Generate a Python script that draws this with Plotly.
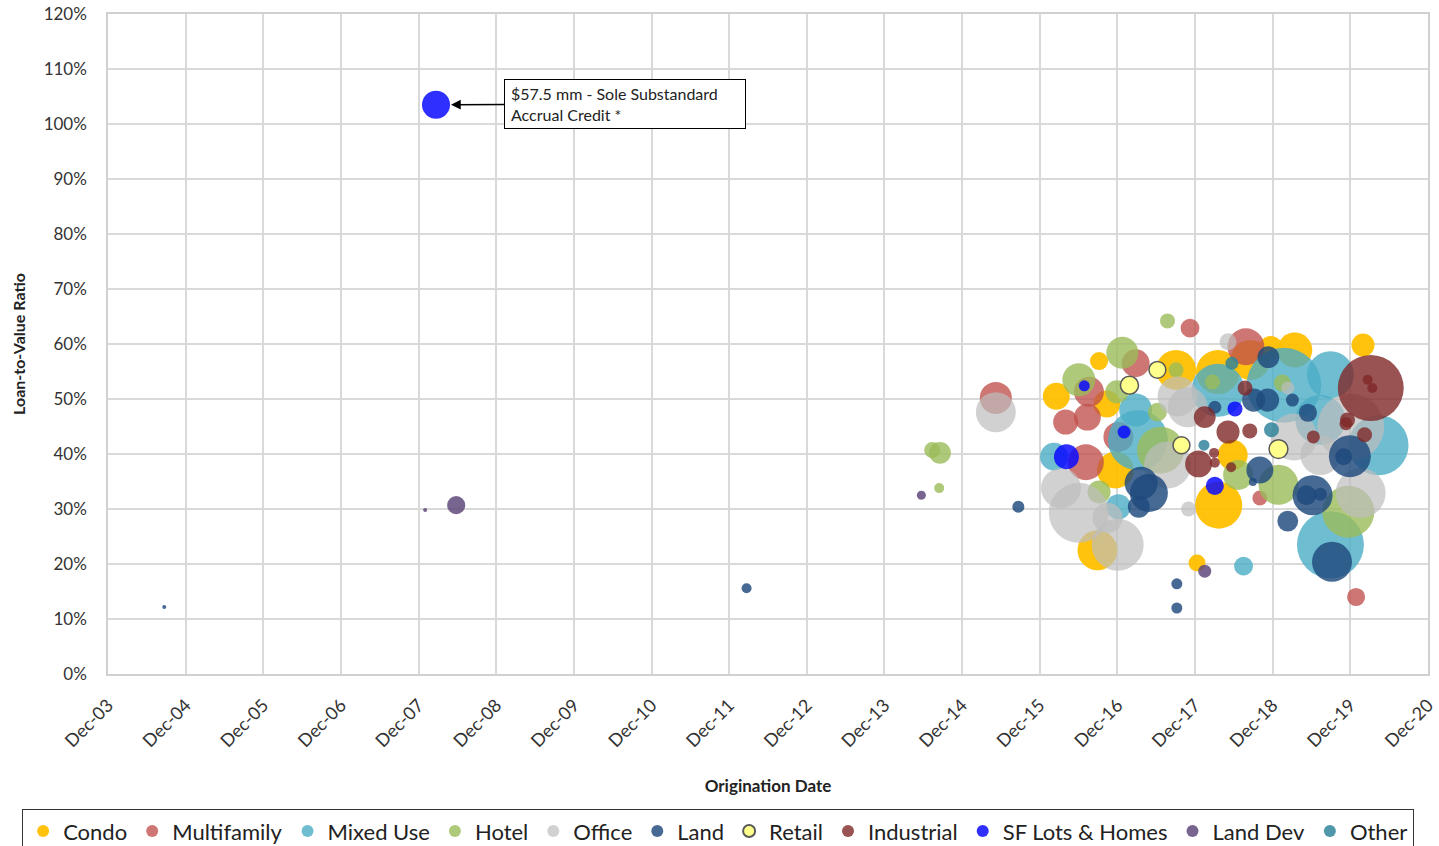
import datetime as dt
import plotly.graph_objects as go

# origination date as decimal year, LTV in %, loan amount in $mm
condo_yr = [2016.68, 2016.13, 2016.78, 2017.67, 2018.21, 2018.63, 2018.89, 2019.20, 2020.08, 2016.89, 2016.66, 2018.22, 2017.94, 2018.40]
condo_ltv = [56.9, 50.5, 49.1, 55.3, 54.9, 57.1, 59.3, 58.9, 59.8, 37.1, 22.5, 30.7, 20.2, 39.8]
condo_amt = [24, 53, 53, 117, 142, 117, 42, 90, 39, 100, 117, 162, 21, 66]

multi_yr = [2017.85, 2018.57, 2017.15, 2016.55, 2016.25, 2016.53, 2016.51, 2018.75, 2019.99, 2015.35, 2016.93]
multi_ltv = [62.9, 59.5, 56.5, 51.3, 45.8, 46.7, 38.5, 32.0, 14.0, 50.2, 43.1]
multi_amt = [26, 100, 57, 66, 46, 53, 95, 16.5, 24, 75, 66]

mixed_yr = [2016.10, 2016.93, 2017.18, 2017.15, 2018.21, 2019.06, 2019.66, 2020.28, 2019.66, 2018.54, 2019.53]
mixed_ltv = [39.5, 30.4, 42.5, 48.0, 51.6, 52.5, 54.4, 41.6, 23.5, 19.6, 46.2]
mixed_amt = [57, 46, 264, 80, 206, 410, 162, 264, 329, 26, 183]

hotel_yr = [2017.56, 2016.98, 2016.42, 2016.91, 2017.67, 2018.14, 2016.68, 2017.47, 2018.99, 2019.89, 2017.43, 2019.04, 2014.53, 2014.63, 2014.62, 2018.47]
hotel_ltv = [64.2, 58.4, 53.5, 51.3, 55.3, 53.1, 33.1, 40.7, 34.4, 29.5, 47.6, 52.9, 40.7, 40.2, 33.8, 36.2]
hotel_amt = [16.5, 75, 80, 39, 16.5, 16.5, 39, 162, 117, 198, 26, 21, 19, 35, 7.3, 66]

office_yr = [2018.34, 2017.69, 2017.82, 2019.92, 2020.05, 2019.19, 2017.56, 2016.19, 2016.42, 2016.79, 2016.92, 2017.83, 2015.35, 2019.11, 2019.53]
office_ltv = [60.4, 50.5, 48.5, 44.9, 32.9, 43.1, 38.0, 33.8, 29.3, 28.4, 23.5, 30.0, 47.6, 52.0, 39.8]
office_amt = [21, 117, 117, 329, 183, 162, 162, 117, 264, 66, 198, 16.5, 117, 12.4, 117]

land_yr = [2018.86, 2017.22, 2017.32, 2017.19, 2017.68, 2017.68, 2019.11, 2019.43, 2019.35, 2019.53, 2018.75, 2018.66,
           2019.91, 2019.83, 2019.68, 2018.67, 2018.85, 2019.17, 2019.37, 2018.17, 2004.64, 2012.14, 2015.64]
land_ltv = [57.6, 34.7, 32.9, 30.4, 16.4, 12.0, 27.8, 32.5, 32.5, 32.7, 37.1, 34.9,
            39.6, 39.5, 20.4, 49.8, 49.8, 49.8, 47.5, 48.5, 12.2, 15.6, 30.4]
land_amt = [35, 80, 106, 35, 8.9, 8.9, 32, 117, 29, 12.4, 53, 4.7,
            129, 21, 117, 39, 39, 12.4, 24, 12.4, 0.7, 7.3, 10.6]

retail_yr = [2017.43, 2017.07, 2017.74, 2018.99]
retail_ltv = [55.3, 52.5, 41.6, 40.9]
retail_amt = [21, 24, 21, 26]

indus_yr = [2020.18, 2020.14, 2020.20, 2017.96, 2018.16, 2018.17, 2018.34, 2018.04, 2018.62, 2018.56, 2019.44, 2019.88, 2019.86, 2020.10, 2018.38]
indus_ltv = [52.0, 53.5, 52.0, 38.2, 40.2, 38.4, 44.0, 46.7, 44.2, 52.0, 43.1, 46.2, 45.5, 43.5, 37.6]
indus_amt = [319, 7.3, 7.3, 53, 7.3, 7.3, 39, 35, 16.5, 16.5, 12.4, 16.5, 12.4, 16.5, 7.3]

sf_yr = [2008.14, 2016.49, 2017.00, 2016.26, 2018.43, 2018.17]
sf_ltv = [103.5, 52.4, 44.0, 39.5, 48.2, 34.2]
sf_amt = [57.5, 8.9, 12.4, 46, 16.5, 24]

landdev_yr = [2008.00, 2008.40, 2014.39, 2018.04]
landdev_ltv = [29.8, 30.7, 32.5, 18.7]
landdev_amt = [1.2, 24, 6, 12.4]

other_yr = [2018.03, 2018.90, 2018.39]
other_ltv = [41.6, 44.4, 56.5]
other_amt = [8.9, 16.5, 12.4]

tick_years = list(range(2003, 2021))
tick_text = ["Dec-%02d" % (y % 100) for y in tick_years]


def to_date(yr):
    y = int(yr)
    return dt.datetime(y, 1, 1) + dt.timedelta(days=(yr - y) * 365.25)


series = [
    ("Condo", condo_yr, condo_ltv, condo_amt, "rgba(255,192,0,0.95)", None),
    ("Multifamily", multi_yr, multi_ltv, multi_amt, "rgba(192,80,77,0.78)", None),
    ("Mixed Use", mixed_yr, mixed_ltv, mixed_amt, "rgba(75,172,198,0.8)", None),
    ("Hotel", hotel_yr, hotel_ltv, hotel_amt, "rgba(155,187,89,0.8)", None),
    ("Office", office_yr, office_ltv, office_amt, "rgba(190,190,190,0.7)", None),
    ("Land", land_yr, land_ltv, land_amt, "rgba(31,73,125,0.82)", None),
    ("Retail", retail_yr, retail_ltv, retail_amt, "rgba(255,255,140,1)", "#595959"),
    ("Industrial", indus_yr, indus_ltv, indus_amt, "rgba(128,40,40,0.8)", None),
    ("SF Lots & Homes", sf_yr, sf_ltv, sf_amt, "rgba(10,10,255,0.85)", None),
    ("Land Dev", landdev_yr, landdev_ltv, landdev_amt, "rgba(96,74,123,0.85)", None),
    ("Other", other_yr, other_ltv, other_amt, "rgba(49,133,156,0.85)", None),
]

fig = go.Figure()
for name, yrs, ltv, amt, color, line in series:
    # bigger loans first so small ones stay visible
    order = sorted(range(len(amt)), key=lambda i: -amt[i])
    fig.add_trace(go.Scatter(
        x=[to_date(yrs[i]) for i in order],
        y=[ltv[i] / 100 for i in order],
        mode="markers",
        name=name,
        marker=dict(
            size=[amt[i] for i in order],
            sizemode="area",
            sizeref=0.1467,
            sizemin=2,
            opacity=1,
            color=color,
            line=dict(width=1.5 if line else 0, color=line or color),
        ),
    ))

fig.add_annotation(
    x=to_date(sf_yr[0]), y=sf_ltv[0] / 100,
    text="$57.5 mm - Sole Substandard<br>Accrual Credit *",
    showarrow=True, ax=189, ay=-1, axref="pixel", ayref="pixel",
    arrowhead=2, arrowsize=1.3, arrowwidth=1.5, arrowcolor="black", standoff=15,
    align="left", width=228, height=36, borderpad=6,
    bordercolor="black", borderwidth=1, bgcolor="white",
    font=dict(family="Lato", size=16, color="#222"),
)

fig.update_xaxes(
    type="date",
    range=[dt.datetime(2003, 12, 1), dt.datetime(2020, 12, 1)],
    tickvals=[dt.datetime(y, 12, 1) for y in tick_years],
    ticktext=tick_text,
    tickangle=-45,
    ticks="outside", ticklen=12, tickcolor="rgba(0,0,0,0)",
    ticklabeloverflow="allow",
    showgrid=True, gridcolor="#D9D9D9", gridwidth=1.5,
    showline=True, linecolor="#D0D0D0", linewidth=1.5, mirror=True,
    zeroline=False, automargin=False,
    tickfont=dict(family="Lato", size=18, color="#333"),
    title=dict(text="<b>Origination Date</b>", font=dict(family="Lato", size=17, color="#222"), standoff=30),
)
fig.update_yaxes(
    range=[0, 1.2],
    tickvals=[i / 10 for i in range(13)],
    tickformat=".0%",
    ticks="outside", ticklen=16, tickcolor="rgba(0,0,0,0)",
    ticklabeloverflow="allow",
    showgrid=True, gridcolor="#D9D9D9", gridwidth=1.5,
    showline=True, linecolor="#D0D0D0", linewidth=1.5, mirror=True,
    zeroline=False, automargin=False,
    tickfont=dict(family="Lato", size=17, color="#333"),
    title=dict(text="<b>Loan-to-Value Ratio</b>", font=dict(family="Lato", size=16, color="#222"), standoff=14),
)

fig.update_layout(
    width=1439, height=846,
    margin=dict(l=108, r=11, t=14, b=172, autoexpand=False),
    plot_bgcolor="white", paper_bgcolor="white",
    font=dict(family="Lato"),
    legend=dict(
        orientation="h",
        x=-0.0652, y=-0.2045, xanchor="left", yanchor="top",
        itemsizing="constant",
        bordercolor="#333", borderwidth=1.2,
        font=dict(family="Lato", size=22, color="#222"),
        itemwidth=30,
    ),
)

# drop the default 8px page margin so the figure fills the window
fig.write_html("out.html", config={"displayModeBar": False},
               post_script="document.body.style.margin = '0';")
